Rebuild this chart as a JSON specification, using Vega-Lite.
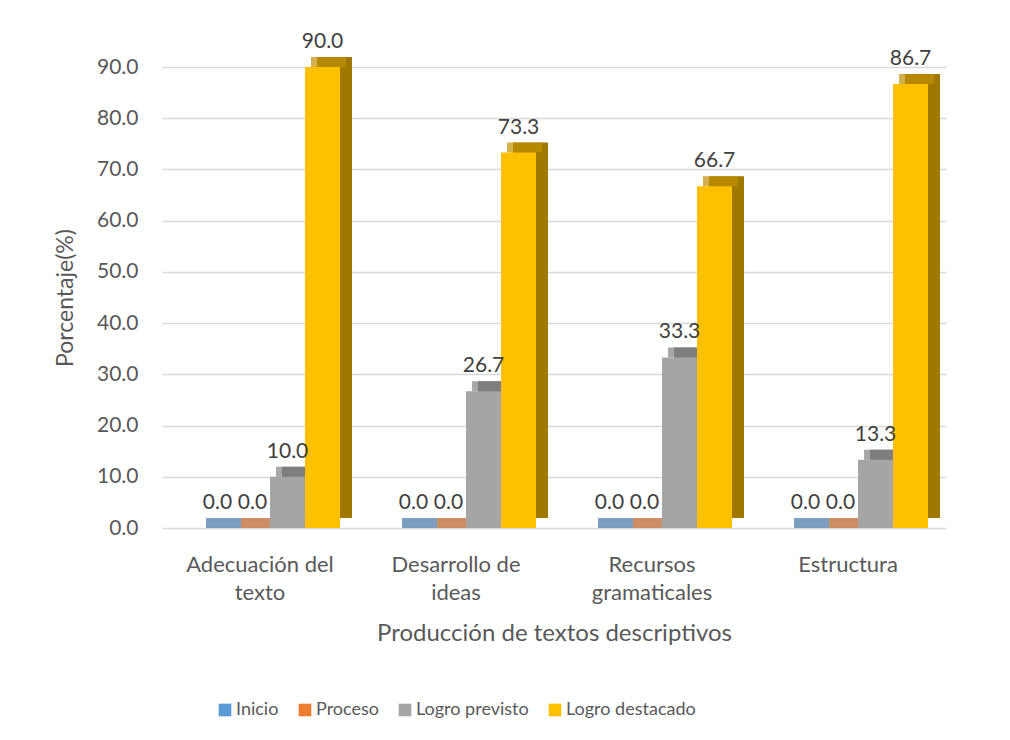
{
  "$schema": "https://vega.github.io/schema/vega-lite/v6.json",
  "width": 784,
  "height": 461,
  "autosize": "none",
  "padding": {"left": 162, "top": 67, "right": 64, "bottom": 212},
  "background": "white",
  "config": {
    "font": "Lato",
    "view": {"stroke": null},
    "axis": {"labelFont": "Lato", "titleFont": "Lato", "labelColor": "#595959", "titleColor": "#595959"},
    "legend": {"labelFont": "Lato"}
  },
  "data": {
    "values": [
      {"categoria": "Adecuación del texto", "nivel": "Inicio", "valor": 0.0},
      {"categoria": "Adecuación del texto", "nivel": "Proceso", "valor": 0.0},
      {"categoria": "Adecuación del texto", "nivel": "Logro previsto", "valor": 10.0},
      {"categoria": "Adecuación del texto", "nivel": "Logro destacado", "valor": 90.0},
      {"categoria": "Desarrollo de ideas", "nivel": "Inicio", "valor": 0.0},
      {"categoria": "Desarrollo de ideas", "nivel": "Proceso", "valor": 0.0},
      {"categoria": "Desarrollo de ideas", "nivel": "Logro previsto", "valor": 26.7},
      {"categoria": "Desarrollo de ideas", "nivel": "Logro destacado", "valor": 73.3},
      {"categoria": "Recursos gramaticales", "nivel": "Inicio", "valor": 0.0},
      {"categoria": "Recursos gramaticales", "nivel": "Proceso", "valor": 0.0},
      {"categoria": "Recursos gramaticales", "nivel": "Logro previsto", "valor": 33.3},
      {"categoria": "Recursos gramaticales", "nivel": "Logro destacado", "valor": 66.7},
      {"categoria": "Estructura", "nivel": "Inicio", "valor": 0.0},
      {"categoria": "Estructura", "nivel": "Proceso", "valor": 0.0},
      {"categoria": "Estructura", "nivel": "Logro previsto", "valor": 13.3},
      {"categoria": "Estructura", "nivel": "Logro destacado", "valor": 86.7}
    ]
  },
  "encoding": {
    "x": {
      "field": "categoria",
      "type": "nominal",
      "sort": null,
      "scale": {"paddingInner": 0.286, "paddingOuter": 0.143},
      "axis": {
        "title": "Producción de textos descriptivos",
        "titleFontSize": 24,
        "titleFontWeight": "normal",
        "titlePadding": 18,
        "labelFontSize": 22,
        "labelAngle": 0,
        "labelPadding": 26,
        "labelLineHeight": 28,
        "labelExpr": "datum.value == 'Adecuación del texto' ? ['Adecuación del', 'texto'] : datum.value == 'Desarrollo de ideas' ? ['Desarrollo de', 'ideas'] : datum.value == 'Recursos gramaticales' ? ['Recursos', 'gramaticales'] : datum.value",
        "domain": false,
        "ticks": false
      }
    },
    "y": {
      "field": "valor",
      "type": "quantitative",
      "scale": {"domain": [0, 90], "nice": false},
      "axis": {
        "title": "Porcentaje(%)",
        "titleFontSize": 23,
        "titleFontWeight": "normal",
        "titlePadding": 19,
        "labelFontSize": 21,
        "labelPadding": 24,
        "format": ".1f",
        "values": [0, 10, 20, 30, 40, 50, 60, 70, 80, 90],
        "domain": false,
        "ticks": false,
        "gridColor": "#D9D9D9",
        "gridWidth": 1.5
      }
    }
  },
  "layer": [
    {
      "mark": {"type": "bar", "yOffset": -10},
      "encoding": {
        "xOffset": {
          "field": "nivel",
          "type": "nominal",
          "sort": ["Inicio", "Proceso", "Logro previsto", "Logro destacado"],
          "scale": {"range": [22, 162]}
        },
        "color": {
          "field": "nivel",
          "type": "nominal",
          "sort": ["Inicio", "Proceso", "Logro previsto", "Logro destacado"],
          "scale": {"range": ["#41719C", "#AE5A21", "#7B7B7B", "#A07800"]},
          "legend": null
        }
      }
    },
    {
      "mark": {"type": "tick", "orient": "horizontal", "size": 35, "thickness": 10, "yOffset": -5},
      "encoding": {
        "xOffset": {
          "field": "nivel",
          "type": "nominal",
          "sort": ["Inicio", "Proceso", "Logro previsto", "Logro destacado"],
          "scale": {"range": [16, 156]}
        },
        "color": {
          "field": "nivel",
          "type": "nominal",
          "sort": ["Inicio", "Proceso", "Logro previsto", "Logro destacado"],
          "scale": {"range": ["#4575A6", "#B95E22", "#808080", "#C09000"]},
          "legend": null
        }
      }
    },
    {
      "mark": {"type": "bar"},
      "encoding": {
        "xOffset": {
          "field": "nivel",
          "type": "nominal",
          "sort": ["Inicio", "Proceso", "Logro previsto", "Logro destacado"],
          "scale": {"range": [10, 150]}
        },
        "color": {
          "field": "nivel",
          "type": "nominal",
          "sort": ["Inicio", "Proceso", "Logro previsto", "Logro destacado"],
          "scale": {"range": ["#5B9BD5", "#ED7D31", "#A5A5A5", "#FFC000"]},
          "legend": {
            "title": null,
            "orient": "none",
            "legendX": 54,
            "legendY": 634,
            "direction": "horizontal",
            "symbolType": "square",
            "symbolSize": 160,
            "symbolStrokeWidth": 0,
            "labelFontSize": 18,
            "labelOffset": 2,
            "labelColor": "#595959",
            "columnPadding": 17
          }
        }
      }
    },
    {
      "mark": {"type": "text", "baseline": "bottom", "dy": -15, "fontSize": 21, "color": "#404040", "font": "Lato"},
      "encoding": {
        "xOffset": {
          "field": "nivel",
          "type": "nominal",
          "sort": ["Inicio", "Proceso", "Logro previsto", "Logro destacado"],
          "scale": {"range": [10, 150]}
        },
        "text": {"field": "valor", "type": "quantitative", "format": ".1f"}
      }
    }
  ],
  "resolve": {"scale": {"color": "independent", "xOffset": "independent"}}
}
